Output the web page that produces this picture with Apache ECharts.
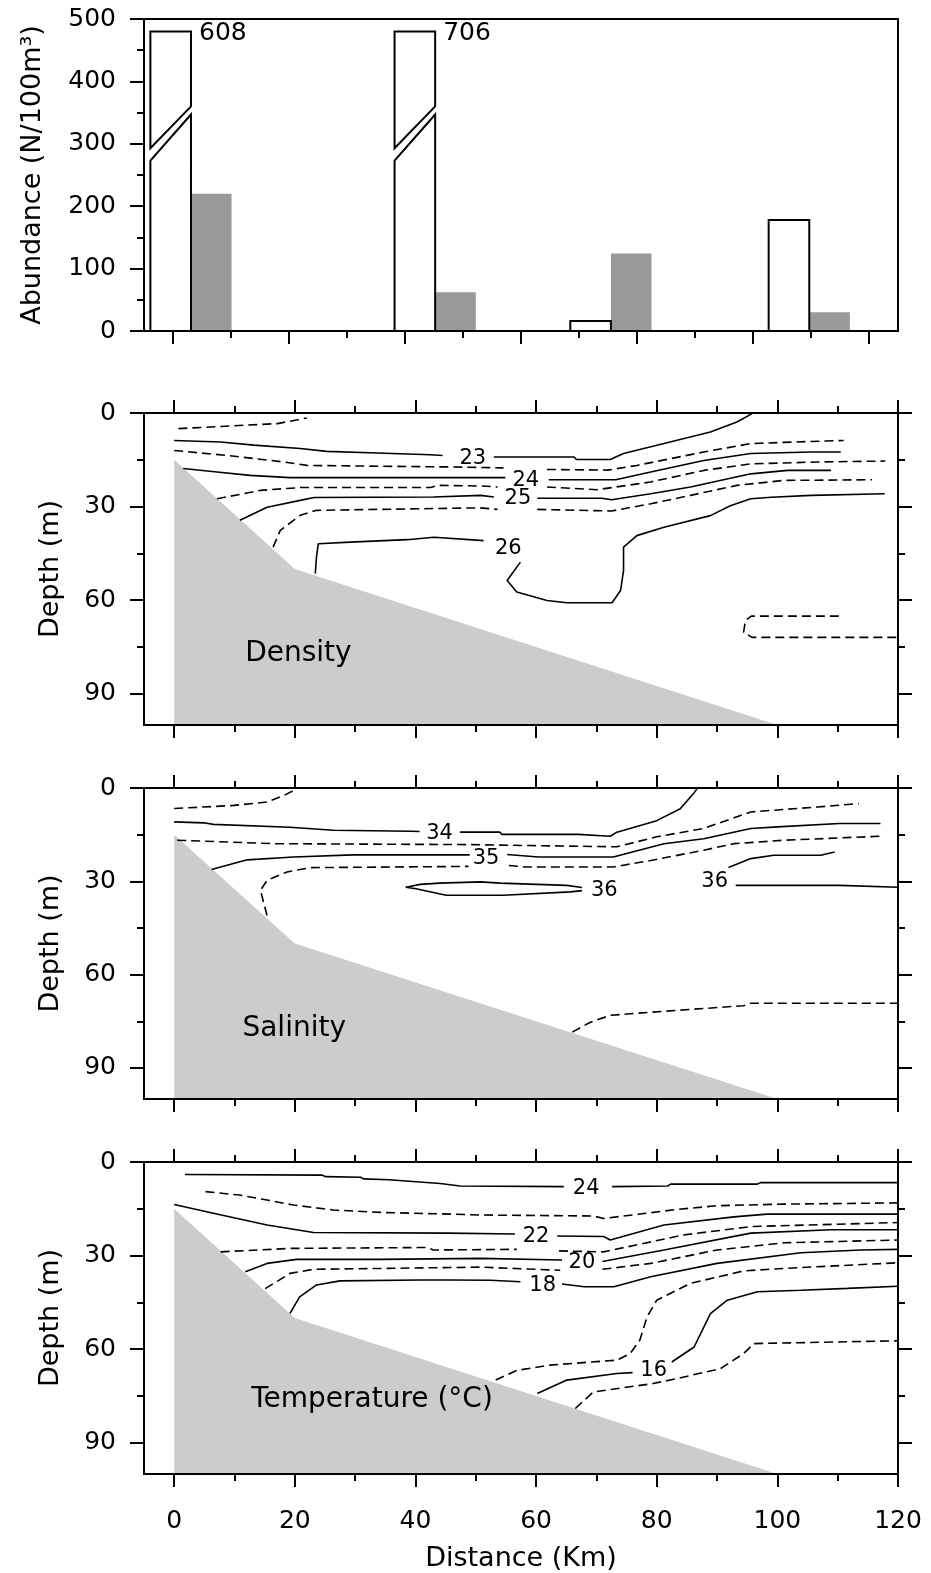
<!DOCTYPE html>
<html><head><meta charset="utf-8">
<script src="https://cdn.jsdelivr.net/npm/echarts@6/dist/echarts.min.js"></script>
<style>html,body{margin:0;padding:0;background:#fff}#c{width:931px;height:1573px}</style>
</head><body><div id="c"></div>
<script>
// ---------------- data ----------------
const abundanceTicks = [0, 100, 200, 300, 400, 500];
const abundanceMinorTicks = [50, 150, 250, 350, 450];
const distanceTicks = [0, 20, 40, 60, 80, 100, 120];
const distanceMinorTicks = [10, 30, 50, 70, 90, 110];
const depthTicks = [0, 30, 60, 90];
const depthMinorTicks = [15, 45, 75];

// stations (km) : open bar lies left of the station mark, grey bar right of it
const stationKm = [3.1, 45.2, 75.5, 109.7];
const openBarAbundance = [608, 706, 16, 178];
const greyBarAbundance = [220, 62, 124, 30];

// sea bottom profile (km, m)
const seabedKm = [0, 0, 20, 100];
const seabedDepth = [100, 15, 50, 100];

const panelNames = ['Density', 'Salinity', 'Temperature (\u00B0C)'];
const panelNameKm = [20.6, 19.9, 32.8];
const panelNameDepth = [77, 77.3, 76.2];

// ---- density contours: segments of [km, depth] ----
const densityLevels = [22.5, 23, 23.5, 24, 24.5, 25, 25.5, 26, 26.5];
const density22_5 = [[[0.7,5.0],[17.1,3.4],[22.0,1.6]]];
const density23 = [
  [[0,8.8],[7.7,9.3],[13.2,10.3],[20.9,11.4],[25.3,12.3],[33.6,12.8],[42.5,13.4],[44.5,13.6]],
  [[53.0,14.1],[66.3,14.1],[66.7,14.9],[72.3,14.9],[74.5,13.0],[81.2,9.8],[88.9,6.1],[93.3,2.9],[95.8,0.2]]];
const density23_5 = [
  [[0,12.0],[8.7,13.6],[18.2,15.7],[22.0,16.8],[46.3,17.3],[54.6,17.6]],
  [[61.8,18.1],[71.9,18.3],[76.7,16.8],[87.8,12.5],[95.6,9.8],[102.7,9.3],[111.0,8.8]]];
const density24 = [
  [[1.5,17.8],[7.1,18.9],[12.6,20.0],[19.2,20.7],[54.9,20.7]],
  [[62.1,21.4],[73.2,21.4],[79.0,18.9],[87.8,15.2],[95.6,13.0],[105.6,12.5],[110.5,12.5]]];
const density24_5 = [
  [[7.1,27.5],[14.3,24.8],[20.9,23.9],[42.5,23.9],[43.6,23.2],[50.8,23.4],[53.6,23.7]],
  [[61.8,23.7],[70.1,24.6],[79.0,22.1],[87.8,18.4],[95.6,16.3],[106.7,15.7],[117.9,15.4]]];
const density25 = [
  [[10.9,34.4],[15.4,30.2],[20.9,28.0],[23.2,27.1],[43.0,26.9],[50.8,26.4],[53.0,26.9]],
  [[60.2,27.3],[70.9,27.3],[72.5,27.8],[79.0,25.9],[85.6,23.7],[95.6,19.5],[101.7,18.4],[108.9,18.4]]];
const density25_5 = [
  [[16.4,43.0],[17.6,37.6],[20.9,32.8],[23.6,31.2],[50.8,30.4],[53.6,30.9]],
  [[60.2,30.9],[72.5,31.4],[79.0,29.1],[85.6,26.4],[93.3,23.2],[101.1,21.6],[115.7,21.4]]];
const density26 = [
  [[23.4,51.5],[23.6,46.0],[23.9,41.9],[29.2,41.4],[38.6,40.6],[43.1,39.8],[51.3,40.9]],
  [[57.4,47.8],[55.2,53.7],[56.8,57.4],[61.8,60.1],[65.1,60.8],[72.6,60.8],[74.0,56.9],[74.5,50.5],[74.5,43.0],[76.7,39.3],[81.2,36.6],[88.9,32.9],[92.2,29.7],[95.6,27.5],[99.0,27.0],[105.6,26.4],[117.8,25.9]]];
const density26_5 = [[[110.2,65.1],[95.7,65.1],[94.7,66.5],[94.4,70.3],[95.8,71.9],[120,71.9]]];
const densityLabelText = ['23', '24', '25', '26'];
const densityLabelKm = [49.5, 58.3, 57.0, 55.4];
const densityLabelDepth = [14.6, 21.6, 27.5, 43.5];

// ---- salinity contours ----
const salinityLevels = [33.5, 34, 34.5, 35, 35.5, 36, 36, 36.5];
const salinity33_5 = [[[0,6.6],[9.9,5.6],[15.4,4.5],[18.2,2.4],[20.1,0.5]]];
const salinity34 = [
  [[0,10.9],[4.9,11.2],[6.5,11.7],[19.2,12.6],[26.4,13.6],[39.1,13.9],[40.7,14.0]],
  [[47.4,14.2],[54.0,14.2],[54.3,14.9],[67.0,14.9],[67.2,15.5],[72.3,15.5],[73.4,14.2],[80.0,10.5],[83.9,6.7],[86.1,1.8],[86.7,0.2]]];
const salinity34_5 = [[[0.5,16.8],[16.4,17.9],[48.6,18.2],[55.2,18.4],[73.4,18.9],[80.0,15.7],[87.8,13.0],[95.6,7.7],[106.7,6.1],[113.5,5.0]]];
const salinity35 = [
  [[6.2,26.2],[12.1,23.1],[19.8,22.2],[29.7,21.5],[49.0,21.5]],
  [[55.2,21.4],[60.4,22.2],[72.8,22.2],[81.2,17.9],[87.8,16.3],[95.6,13.0],[100.0,12.5],[110.3,11.4],[117.1,11.4]]];
const salinity35_5 = [
  [[15.4,41.0],[14.3,32.9],[15.4,29.7],[18.7,27.0],[22.6,25.6],[43.1,25.3],[48.8,25.2]],
  [[55.5,24.9],[58.2,25.4],[72.8,25.4],[79.0,23.3],[87.8,20.0],[92.8,17.9],[101.1,16.8],[117.1,15.5]]];
const salinity36lens = [
  [[38.4,31.9],[40.8,31.0],[44.0,30.6],[50.8,30.2],[54.0,30.6],[65.1,31.3],[67.6,32.0]],
  [[38.4,31.9],[40.1,32.4],[45.1,34.5],[50.8,34.5],[54.5,34.5],[65.7,33.4],[67.6,33.0]]];
const salinity36 = [
  [[109.5,20.6],[107.2,21.6],[99.4,21.6],[95.6,22.7],[91.9,25.6]],
  [[93.1,31.3],[110.3,31.3],[110.6,31.9],[120,31.9]]];
const salinity36_5 = [[[66.0,78.5],[69.0,75.3],[72.3,73.1],[79.0,72.1],[94.4,70.0],[95.6,69.2],[120,69.2]]];
const salinityLabelText = ['34', '35', '36', '36'];
const salinityLabelKm = [44.0, 51.7, 71.3, 89.6];
const salinityLabelDepth = [14.7, 22.7, 32.9, 30.2];

// ---- temperature contours ----
const temperatureLevels = [24, 23, 22, 21, 20, 19, 18, 17, 16, 15];
const temperature24 = [
  [[1.8,4.0],[24.5,4.2],[25.1,4.7],[30.9,4.9],[31.4,5.4],[35.6,5.7],[44.1,6.9],[47.4,7.7],[64.6,7.9]],
  [[72.6,7.9],[81.8,7.7],[82.3,7.1],[96.7,7.1],[97.2,6.6],[120,6.6]]];
const temperature23 = [[[5.2,9.5],[10.9,10.6],[15.4,12.2],[19.8,13.8],[26.4,15.4],[34.8,16.2],[45.8,16.7],[50.8,17.0],[69.5,17.3],[71.2,18.1],[83.4,15.2],[90.0,14.0],[101.1,13.5],[120,13.1]]];
const temperature22 = [
  [[0,13.6],[6.5,16.4],[15.4,20.2],[23.1,22.6],[45.2,22.8],[45.5,23.4],[56.5,23.1]],
  [[63.5,23.7],[71.2,23.9],[72.3,25.0],[81.2,20.2],[92.8,17.6],[98.3,16.7],[120,16.7]]];
const temperature21 = [
  [[7.7,28.8],[19.2,27.7],[41.9,27.4],[43.0,28.2],[56.8,28.0]],
  [[63.8,28.5],[71.2,28.8],[84.4,23.4],[95.6,20.7],[120,19.4]]];
const temperature20 = [
  [[11.8,35.2],[15.4,32.5],[20.3,31.2],[34.2,31.2],[34.5,30.6],[50.8,30.9],[64.3,31.4]],
  [[71.0,31.9],[81.2,28.2],[95.6,22.8],[108.9,21.7],[120,21.7]]];
const temperature19 = [
  [[15.1,40.6],[19.2,35.7],[23.1,34.4],[50.8,33.7],[64.0,34.7]],
  [[71.0,34.4],[79.0,32.5],[90.0,28.2],[101.1,25.9],[120,25.0]]];
const temperature18 = [
  [[19.2,48.5],[20.8,43.2],[23.6,39.4],[27.5,38.1],[40.8,37.8],[45.8,37.8],[52.4,37.9],[57.4,38.4]],
  [[64.3,39.1],[68.0,40.0],[72.9,40.0],[79.0,36.8],[90.0,32.5],[103.9,29.1],[113.8,28.2],[120,28.0]]];
const temperature17 = [[[53.3,69.9],[56.8,66.8],[62.3,65.1],[73.4,63.5],[75.6,61.4],[77.2,57.1],[78.4,49.6],[80.0,44.3],[85.6,38.9],[94.4,34.9],[101.1,34.1],[120,32.3]]];
const temperature16 = [
  [[60.2,74.2],[65.1,69.9],[73.4,67.8],[76.0,67.5]],
  [[82.5,64.1],[86.2,59.3],[88.9,48.6],[91.7,44.3],[96.7,41.6],[103.9,41.1],[111.6,40.5],[120,39.8]]];
const temperature15 = [[[66.5,79.0],[69.5,73.7],[79.4,71.0],[83.4,69.4],[90.6,66.2],[94.4,61.4],[96.1,58.2],[120,57.3]]];
const temperatureLabelText = ['24', '22', '20', '18', '16'];
const temperatureLabelKm = [68.3, 60.0, 67.6, 61.1, 79.5];
const temperatureLabelDepth = [8.4, 24.0, 32.2, 39.5, 67.0];

// ---------------- chart ----------------
const FONT = 'DejaVu Sans';
const BAR_W = 7;          // bar width (km)
const CAP = 480;          // drawn height of broken bars
const panelContours = [
  {levels: densityLevels, lines: [density22_5, density23, density23_5, density24, density24_5, density25, density25_5, density26, density26_5], solidStep: 1,
   lt: densityLabelText, lk: densityLabelKm, ld: densityLabelDepth},
  {levels: salinityLevels, lines: [salinity33_5, salinity34, salinity34_5, salinity35, salinity35_5, salinity36lens, salinity36, salinity36_5], solidStep: 1,
   lt: salinityLabelText, lk: salinityLabelKm, ld: salinityLabelDepth},
  {levels: temperatureLevels, lines: [temperature24, temperature23, temperature22, temperature21, temperature20, temperature19, temperature18, temperature17, temperature16, temperature15], solidStep: 2,
   lt: temperatureLabelText, lk: temperatureLabelKm, ld: temperatureLabelDepth}
];

const grids = [
  {left: 144, top: 19, width: 754, height: 312},
  {left: 144, top: 413, width: 754, height: 312},
  {left: 144, top: 788, width: 754, height: 311},
  {left: 144, top: 1162, width: 754, height: 312}
].map(g => Object.assign(g, {show: true, borderColor: '#000', borderWidth: 2, z: 10, containLabel: false}));

const tickStyle = {color: '#000', width: 2};
const labelStyle = {color: '#000', fontFamily: FONT, fontSize: 25, margin: 28};
const nameStyle = {color: '#000', fontFamily: FONT, fontSize: 27};

function axis(grid, min, max, position, values, len, extra) {
  return Object.assign({
    type: 'value', gridIndex: grid, min: min, max: max, position: position,
    axisLine: {show: false, onZero: false},
    splitLine: {show: false},
    axisTick: {show: true, length: len, lineStyle: tickStyle, customValues: values},
    axisLabel: {show: false, customValues: values},
    axisPointer: {show: false}
  }, extra || {});
}
function withLabels(values, margin) { return Object.assign({show: true, customValues: values}, labelStyle, margin ? {margin: margin} : {}); }

const xAxes = [], yAxes = [], series = [];

// ---- abundance panel ----
xAxes.push(axis(0, -5, 125, 'bottom', distanceTicks, 13));
xAxes.push(axis(0, -5, 125, 'bottom', distanceMinorTicks, 7));
yAxes.push(axis(0, 0, 500, 'left', abundanceTicks, 14, {
  axisLabel: withLabels(abundanceTicks),
  name: 'Abundance (N/100m\u00B3)', nameLocation: 'middle', nameRotate: 90, nameGap: 98, nameTextStyle: nameStyle}));
yAxes.push(axis(0, 0, 500, 'left', abundanceMinorTicks, 7));

series.push({
  type: 'custom', xAxisIndex: 0, yAxisIndex: 0, z: 2,
  data: stationKm.map((s, i) => [s, greyBarAbundance[i]]),
  renderItem: (params, api) => {
    const s = api.value(0), v = api.value(1);
    const a = api.coord([s, v]), b = api.coord([s + BAR_W, 0]);
    return {type: 'rect', shape: {x: a[0], y: a[1], width: b[0] - a[0], height: b[1] - a[1]}, style: {fill: '#999999'}};
  }
});
series.push({
  type: 'custom', xAxisIndex: 0, yAxisIndex: 0, z: 3,
  data: stationKm.map((s, i) => [s, openBarAbundance[i]]),
  renderItem: (params, api) => {
    const s = api.value(0), v = api.value(1);
    const x0 = api.coord([s - BAR_W, 0])[0], x1 = api.coord([s, 0])[0];
    const Y = val => api.coord([s, val])[1];
    const yb = Y(0);
    const style = {fill: '#fff', stroke: '#000', lineWidth: 2};
    if (v <= 500) {
      return {type: 'polygon', shape: {points: [[x0, yb], [x0, Y(v)], [x1, Y(v)], [x1, yb]]}, style: style};
    }
    return {type: 'group', children: [
      {type: 'polygon', shape: {points: [[x0, yb], [x0, Y(273)], [x1, Y(347)], [x1, yb]]}, style: style},
      {type: 'polygon', shape: {points: [[x0, Y(293)], [x0, Y(CAP)], [x1, Y(CAP)], [x1, Y(360)]]}, style: style},
      {type: 'text', x: x1 + 8, y: Y(CAP) + 2.5, style: {text: String(v), fill: '#000', fontSize: 25, fontFamily: FONT, align: 'left', verticalAlign: 'middle'}}
    ]};
  }
});

// ---- contour panels ----
panelContours.forEach((pc, k) => {
  const g = k + 1;
  const last = (k === 2);
  const xi = xAxes.length, yi = yAxes.length;
  xAxes.push(axis(g, -5, 120, 'bottom', distanceTicks, 13, last ? {
    axisLabel: withLabels(distanceTicks, 35),
    name: 'Distance (Km)', nameLocation: 'middle', nameGap: 71, nameTextStyle: nameStyle} : {}));
  xAxes.push(axis(g, -5, 120, 'bottom', distanceMinorTicks, 7));
  xAxes.push(axis(g, -5, 120, 'top', distanceTicks, 13));
  xAxes.push(axis(g, -5, 120, 'top', distanceMinorTicks, 7));
  yAxes.push(axis(g, 0, 100, 'left', depthTicks, 14, {inverse: true,
    axisLabel: withLabels(depthTicks),
    name: 'Depth (m)', nameLocation: 'middle', nameRotate: 90, nameGap: 80, nameTextStyle: nameStyle}));
  yAxes.push(axis(g, 0, 100, 'left', depthMinorTicks, 7, {inverse: true}));
  yAxes.push(axis(g, 0, 100, 'right', depthTicks, 14, {inverse: true}));
  yAxes.push(axis(g, 0, 100, 'right', depthMinorTicks, 7, {inverse: true}));

  // sea bottom
  series.push({
    type: 'custom', xAxisIndex: xi, yAxisIndex: yi, z: 1, silent: true,
    data: [[0, 0]],
    renderItem: (params, api) => ({
      type: 'polygon',
      shape: {points: seabedKm.map((km, i) => api.coord([km, seabedDepth[i]]))},
      style: {fill: '#cccccc'}
    })
  });
  // contour lines
  pc.lines.forEach((segs, li) => {
    const lvl = pc.levels[li];
    const dashed = (lvl % pc.solidStep) !== 0;
    segs.forEach(seg => {
      series.push({
        type: 'line', xAxisIndex: xi, yAxisIndex: yi, z: 3, silent: true,
        data: seg, symbol: 'none', smooth: false,
        lineStyle: {color: '#000', width: 1.6, type: dashed ? [9, 5] : 'solid'}
      });
    });
  });
  // contour labels
  series.push({
    type: 'custom', xAxisIndex: xi, yAxisIndex: yi, z: 4, silent: true,
    data: pc.lk.map((km, i) => [km, pc.ld[i]]),
    renderItem: (params, api) => {
      const p = api.coord([api.value(0), api.value(1)]);
      return {type: 'text', x: p[0], y: p[1], style: {text: pc.lt[params.dataIndex], fill: '#000', fontSize: 21, fontFamily: FONT, align: 'center', verticalAlign: 'middle'}};
    }
  });
  // panel name
  series.push({
    type: 'custom', xAxisIndex: xi, yAxisIndex: yi, z: 4, silent: true,
    data: [[panelNameKm[k], panelNameDepth[k]]],
    renderItem: (params, api) => {
      const p = api.coord([api.value(0), api.value(1)]);
      return {type: 'text', x: p[0], y: p[1], style: {text: panelNames[k], fill: '#000', fontSize: 28, fontFamily: FONT, align: 'center', verticalAlign: 'middle'}};
    }
  });
});

const chart = echarts.init(document.getElementById('c'), null, {renderer: 'canvas', width: 931, height: 1573});
chart.setOption({
  animation: false,
  backgroundColor: '#fff',
  grid: grids,
  xAxis: xAxes,
  yAxis: yAxes,
  series: series
});
</script></body></html>
